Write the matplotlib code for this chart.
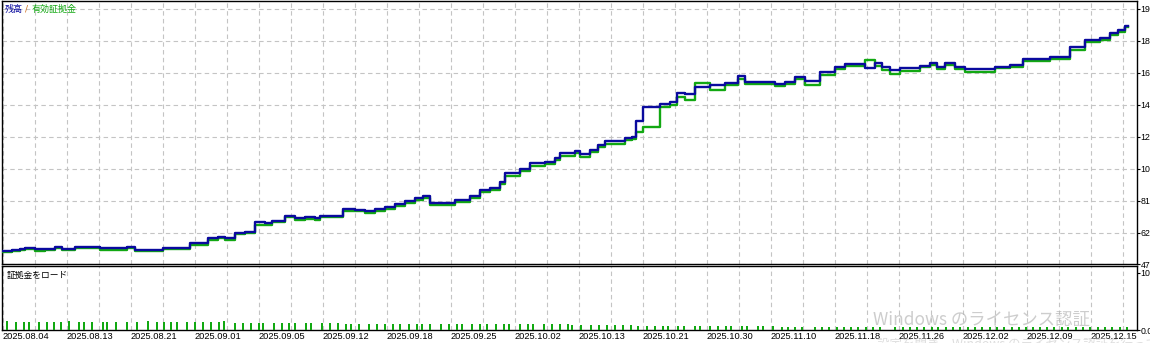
import matplotlib
matplotlib.use("Agg")
import matplotlib.pyplot as plt

# balance / equity curve (x = trade position)
trade_pos = [0, 9, 17, 22, 32, 42, 52, 59, 72, 97, 124, 132, 160, 187, 205, 215, 222, 232,
             242, 252, 262, 269, 282, 292, 302, 312, 317, 340, 352, 362, 372, 382, 392, 402,
             412, 420, 427, 452, 467, 477, 487, 497, 502, 517, 527, 542, 552, 557, 572, 577,
             587, 595, 602, 622, 629, 633, 640, 657, 667, 674, 682, 692, 707, 722, 735, 742,
             772, 782, 792, 802, 817, 832, 842, 862, 872, 879, 887, 897, 917, 927, 934, 942,
             952, 962, 992, 1007, 1020, 1047, 1067, 1082, 1097, 1107, 1115, 1122, 1125]
balance = [5090, 5150, 5230, 5280, 5220, 5220, 5320, 5220, 5360, 5300, 5360, 5150, 5300, 5600,
           5870, 5970, 5870, 6220, 6280, 6880, 6800, 6960, 7270, 7100, 7170, 7100, 7250, 7680,
           7620, 7550, 7700, 7820, 7990, 8170, 8340, 8460, 8070, 8230, 8480, 8850, 8950, 9360,
           9910, 10120, 10490, 10590, 10800, 11110, 11270, 11060, 11310, 11620, 11880, 12030,
           12130, 13100, 13940, 14140, 14280, 14840, 14760, 15210, 15310, 15450, 15870, 15510,
           15370, 15510, 15820, 15580, 16130, 16440, 16600, 16340, 16650, 16440, 16230, 16340,
           16500, 16680, 16440, 16680, 16440, 16310, 16440, 16540, 16910, 17050, 17670, 18080,
           18220, 18530, 18700, 18940, 18940]
equity = [5030, 5100, 5170, 5200, 5100, 5150, 5260, 5180, 5290, 5180, 5300, 5090, 5230, 5480,
          5760, 5900, 5750, 6120, 6220, 6700, 6720, 6870, 7200, 6990, 7080, 7020, 7170, 7550,
          7530, 7450, 7560, 7700, 7860, 8060, 8250, 8380, 7930, 8120, 8350, 8700, 8850, 9200,
          9700, 10000, 10330, 10450, 10700, 10950, 11150, 10900, 11200, 11500, 11650, 11900,
          12000, 12400, 12750, 13950, 14100, 14600, 14390, 15450, 15000, 15300, 15700, 15350,
          15250, 15400, 15700, 15300, 15950, 16300, 16500, 16850, 16500, 16250, 16000, 16200,
          16400, 16560, 16300, 16550, 16320, 16080, 16330, 16420, 16780, 16900, 17450, 17950,
          18080, 18400, 18600, 18850, 18850]

# margin load bars (lower panel)
margin_pos = [4, 13, 21, 26, 36, 44, 51, 58, 66, 76, 81, 89, 100, 104, 113, 124, 134, 145,
              154, 161, 168, 174, 184, 192, 200, 208, 216, 221, 232, 240, 248, 256, 260, 271,
              279, 286, 292, 303, 308, 319, 327, 335, 343, 348, 356, 366, 374, 382, 390,
              397, 406, 414, 419, 427, 438, 446, 454, 459, 469, 477, 484, 493, 501, 506, 517,
              525, 530, 541, 549, 557, 565, 569, 578, 588, 596, 604, 612, 620, 628, 635, 644,
              652, 660, 665, 675, 681, 692, 697, 707, 715, 723, 728, 739, 744, 755, 760, 770,
              779, 785, 792, 799, 812, 819, 826, 834, 841, 848, 855, 863, 870, 877, 892, 900,
              907, 914, 921, 929, 935, 943, 950, 957, 965, 972, 979, 987, 994, 1001, 1009,
              1016, 1023, 1030, 1037, 1044, 1051, 1059, 1065, 1073, 1080, 1087, 1095, 1102,
              1109, 1117, 1124]
margin_load = [1.6, 1.4, 1.4, 1.4, 1.4, 1.4, 1.4, 1.4, 1.6, 1.4, 1.4, 1.4, 1.4, 1.4, 1.4, 1.4,
               1.4, 1.6, 1.4, 1.4, 1.4, 1.4, 1.4, 1.4, 1.4, 1.4, 1.4, 1.5, 1.2, 1.2, 1.2, 1.2,
               1.2, 1.2, 1.2, 1.2, 1.2, 1.2, 1.2, 1.2, 1.2, 1.2, 1.1, 1.1, 1.1, 1.0, 1.0, 1.0,
               1.0,
               1.0, 1.0, 1.0, 1.0, 1.0, 1.0, 1.0, 1.0, 1.0, 1.0, 1.0, 1.0, 1.0, 1.0, 1.0, 1.0,
               1.0, 1.0, 1.0, 1.0, 1.0, 1.0, 0.85, 0.85, 0.85, 0.85, 0.85, 0.85, 0.85,
               0.85, 0.7, 0.7, 0.7, 0.7, 0.7, 0.7, 0.7, 0.7, 0.7, 0.7, 0.7, 0.7, 0.7, 0.7,
               0.7, 0.7, 0.7, 0.7,
               0.6, 0.6, 0.6, 0.6, 0.6, 0.6, 0.6, 0.6, 0.6, 0.6, 0.6, 0.6, 0.6, 0.6, 0.6, 0.6,
               0.6, 0.6, 0.6, 0.6, 0.6, 0.6, 0.6, 0.6, 0.6, 0.6, 0.6, 0.6, 0.6, 0.6, 0.6, 0.6,
               0.6, 0.6, 0.6, 0.6, 0.6, 0.6, 0.6, 0.6, 0.6, 0.6, 0.6, 0.6, 0.6, 0.6, 0.6]

date_labels = ['2025.08.04', '2025.08.13', '2025.08.21', '2025.09.01', '2025.09.05',
               '2025.09.12', '2025.09.18', '2025.09.25', '2025.10.02', '2025.10.13',
               '2025.10.21', '2025.10.30', '2025.11.10', '2025.11.18', '2025.11.26',
               '2025.12.02', '2025.12.09', '2025.12.15']
bal_ticks = [6200, 8170, 10140, 12110, 14080, 16050, 18020, 19990]
bal_tick_labels = ['62', '81', '10', '12', '14', '16', '18', '19']
bal_bottom_label = '47'
load_ticks = [0, 10]
load_tick_labels = ['0.0', '10']

BLUE = '#0a0a9e'
GREEN = '#12a812'
GRID = '#c4c4c4'
JP = ['Noto Sans CJK JP', 'DejaVu Sans']
NUM = 'Liberation Sans'

W, H = 1150, 343
fig = plt.figure(figsize=(W / 100, H / 100), dpi=100)
fig.patch.set_facecolor('white')


def px_box(x0, y0, x1, y1):
    return [x0 / W, 1 - y1 / H, (x1 - x0) / W, (y1 - y0) / H]


ax = fig.add_axes(px_box(2, 1, 1137, 264))
ax2 = fig.add_axes(px_box(2, 266, 1137, 330), sharex=ax)

ylo, yhi = 4290, 20480
ax.set_ylim(ylo, yhi)
ax.set_xlim(-1, 1134)
ax2.set_ylim(0, 11.2)

grid_x = list(range(0, 1134, 32))
for a in (ax, ax2):
    a.set_xticks(grid_x)
    a.grid(True, axis='x', color=GRID, lw=0.8, linestyle=(0, (4, 3)))
    for s in a.spines.values():
        s.set_color('black')
        s.set_linewidth(1.0)
    a.yaxis.tick_right()
    a.tick_params(axis='y', direction='out', length=2, width=0.8, pad=0.6,
                  labelsize=6.3, colors='black')
ax.grid(True, axis='y', color=GRID, lw=0.8, linestyle=(0, (4, 3)))

ax.plot(trade_pos, equity, color=GREEN, lw=1.7, drawstyle='steps-post', zorder=3)
ax.plot(trade_pos, balance, color=BLUE, lw=1.7, drawstyle='steps-post', zorder=4)

ax.set_yticks([ylo] + bal_ticks)
ax.set_yticklabels([bal_bottom_label] + bal_tick_labels, family=NUM)
ax.tick_params(axis='x', length=0, labelbottom=False)

ax2.bar(margin_pos, margin_load, width=2.0, color=GREEN, zorder=3)
ax2.set_yticks(load_ticks)
ax2.set_yticklabels(load_tick_labels, family=NUM)
ax2.set_xticks(grid_x)
ax2.set_xticklabels([date_labels[i // 2] if i % 2 == 0 else '' for i in range(len(grid_x))],
                    family=NUM)
ax2.tick_params(axis='x', length=0, pad=1.5, labelsize=6.7)
for lab in ax2.get_xticklabels():
    lab.set_ha('left')

# legend texts
fig.text(5 / W, 1 - 9 / H, '残高', color=BLUE, fontsize=6.5, family=JP, va='center')
fig.text(25 / W, 1 - 9 / H, '/', color='#d07020', fontsize=6.5, va='center')
fig.text(32 / W, 1 - 9 / H, '有効証拠金', color=GREEN, fontsize=6.5, family=JP, va='center')
fig.text(7 / W, 1 - 275 / H, '証拠金をロード', color='black', fontsize=6.3, family=JP,
         va='center')

# activation watermark from the screenshot
fig.text(873 / W, 1 - 320 / H, 'Windows のライセンス認証', color='#b8b8b8', alpha=0.7,
         fontsize=12.5, family=JP, va='center', zorder=10)
fig.text(877 / W, 1 - 345 / H, '設定を開き、Windows のライセンス認証を行ってください。',
         color='#c8c8c8', alpha=0.6, fontsize=9, family=JP, va='center', zorder=10)

fig.savefig('out.png', dpi=100)
